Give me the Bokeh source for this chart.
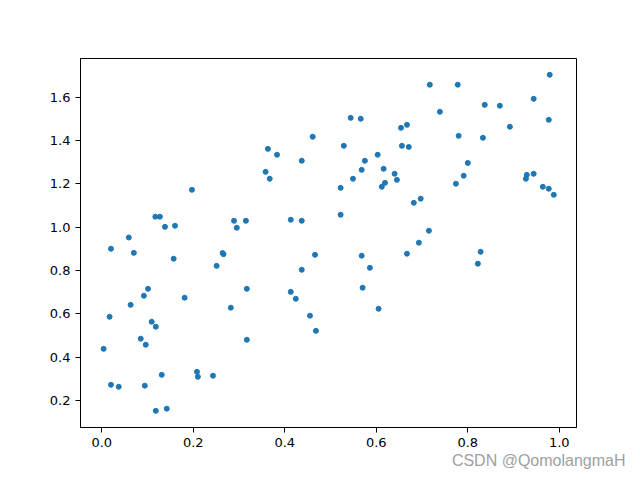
from bokeh.plotting import figure
from bokeh.models import Range1d, FixedTicker, PrintfTickFormatter, Title
from bokeh.embed import file_html
from bokeh.resources import INLINE

x_vals = [0.197, 0.117, 0.127, 0.138, 0.160, 0.059, 0.289, 0.295, 0.315, 0.358,
          0.363, 0.367, 0.383, 0.413, 0.437, 0.437, 0.461, 0.522, 0.522, 0.529,
          0.544, 0.549, 0.566, 0.568, 0.575, 0.603, 0.612, 0.616, 0.619, 0.640,
          0.645, 0.654, 0.656, 0.667, 0.671, 0.717, 0.778, 0.739, 0.837, 0.870,
          0.944, 0.979, 0.977, 0.892, 0.780, 0.833, 0.800, 0.791, 0.774, 0.929,
          0.927, 0.944, 0.964, 0.977, 0.988, 0.697, 0.682, 0.715, 0.693, 0.020,
          0.070, 0.157, 0.264, 0.251, 0.317, 0.101, 0.092, 0.181, 0.063, 0.282,
          0.017, 0.109, 0.118, 0.085, 0.096, 0.004, 0.317, 0.131, 0.208, 0.210,
          0.243, 0.020, 0.037, 0.094, 0.118, 0.142, 0.466, 0.437, 0.568, 0.586,
          0.667, 0.413, 0.424, 0.570, 0.605, 0.455, 0.468, 0.828, 0.822, 0.266]
y_vals = [1.172, 1.048, 1.048, 1.001, 1.006, 0.952, 1.029, 0.997, 1.029, 1.255,
          1.361, 1.223, 1.334, 1.034, 1.306, 1.029, 1.417, 1.181, 1.057, 1.375,
          1.504, 1.223, 1.500, 1.264, 1.306, 1.334, 1.186, 1.269, 1.204, 1.246,
          1.218, 1.458, 1.375, 1.472, 1.370, 1.657, 1.657, 1.532, 1.564, 1.560,
          1.592, 1.703, 1.495, 1.463, 1.421, 1.412, 1.296, 1.237, 1.200, 1.241,
          1.223, 1.246, 1.186, 1.177, 1.149, 1.131, 1.112, 0.983, 0.928, 0.900,
          0.881, 0.854, 0.880, 0.821, 0.715, 0.715, 0.683, 0.674, 0.641, 0.628,
          0.586, 0.563, 0.540, 0.485, 0.457, 0.438, 0.480, 0.318, 0.332, 0.309,
          0.314, 0.272, 0.263, 0.268, 0.152, 0.162, 0.872, 0.803, 0.868, 0.812,
          0.877, 0.701, 0.669, 0.720, 0.623, 0.591, 0.521, 0.886, 0.831, 0.875]
x_ticks = [0.0, 0.2, 0.4, 0.6, 0.8, 1.0]
y_ticks = [0.2, 0.4, 0.6, 0.8, 1.0, 1.2, 1.4, 1.6]
watermark = "CSDN @QomolangmaH"

p = figure(width=632, height=472, output_backend="svg", toolbar_location=None,
           x_range=Range1d(-0.0466, 1.0376), y_range=Range1d(0.075, 1.778),
           min_border_left=80, min_border_right=56, min_border_top=58, min_border_bottom=45)
p.frame_width = 496
p.frame_height = 369

p.scatter(x_vals, y_vals, size=5.0, color="#1f77b4", line_color="#1f77b4")

p.xgrid.visible = False
p.ygrid.visible = False
p.outline_line_color = "black"
p.outline_line_width = 1
p.outline_line_alpha = 1.0
p.background_fill_color = "white"
p.border_fill_color = "white"

p.xaxis.ticker = FixedTicker(ticks=x_ticks)
p.yaxis.ticker = FixedTicker(ticks=y_ticks)
p.xaxis.formatter = PrintfTickFormatter(format="%.1f")
p.yaxis.formatter = PrintfTickFormatter(format="%.1f")
for ax in (p.xaxis, p.yaxis):
    ax.axis_line_color = "black"
    ax.major_tick_line_color = "black"
    ax.major_tick_in = 0
    ax.major_tick_out = 5
    ax.minor_tick_line_color = None
    ax.major_label_text_font = "DejaVu Sans"
    ax.major_label_text_font_size = "13px"
    ax.major_label_text_color = "black"
    ax.major_label_standoff = 5

wm = Title(text=watermark, align="right", offset=-49, standoff=0,
           text_font="Liberation Sans", text_font_size="16px", text_font_style="normal",
           text_color="#a0a0a0")
p.add_layout(wm, "below")

open("out.html", "w").write(file_html(p, INLINE))
